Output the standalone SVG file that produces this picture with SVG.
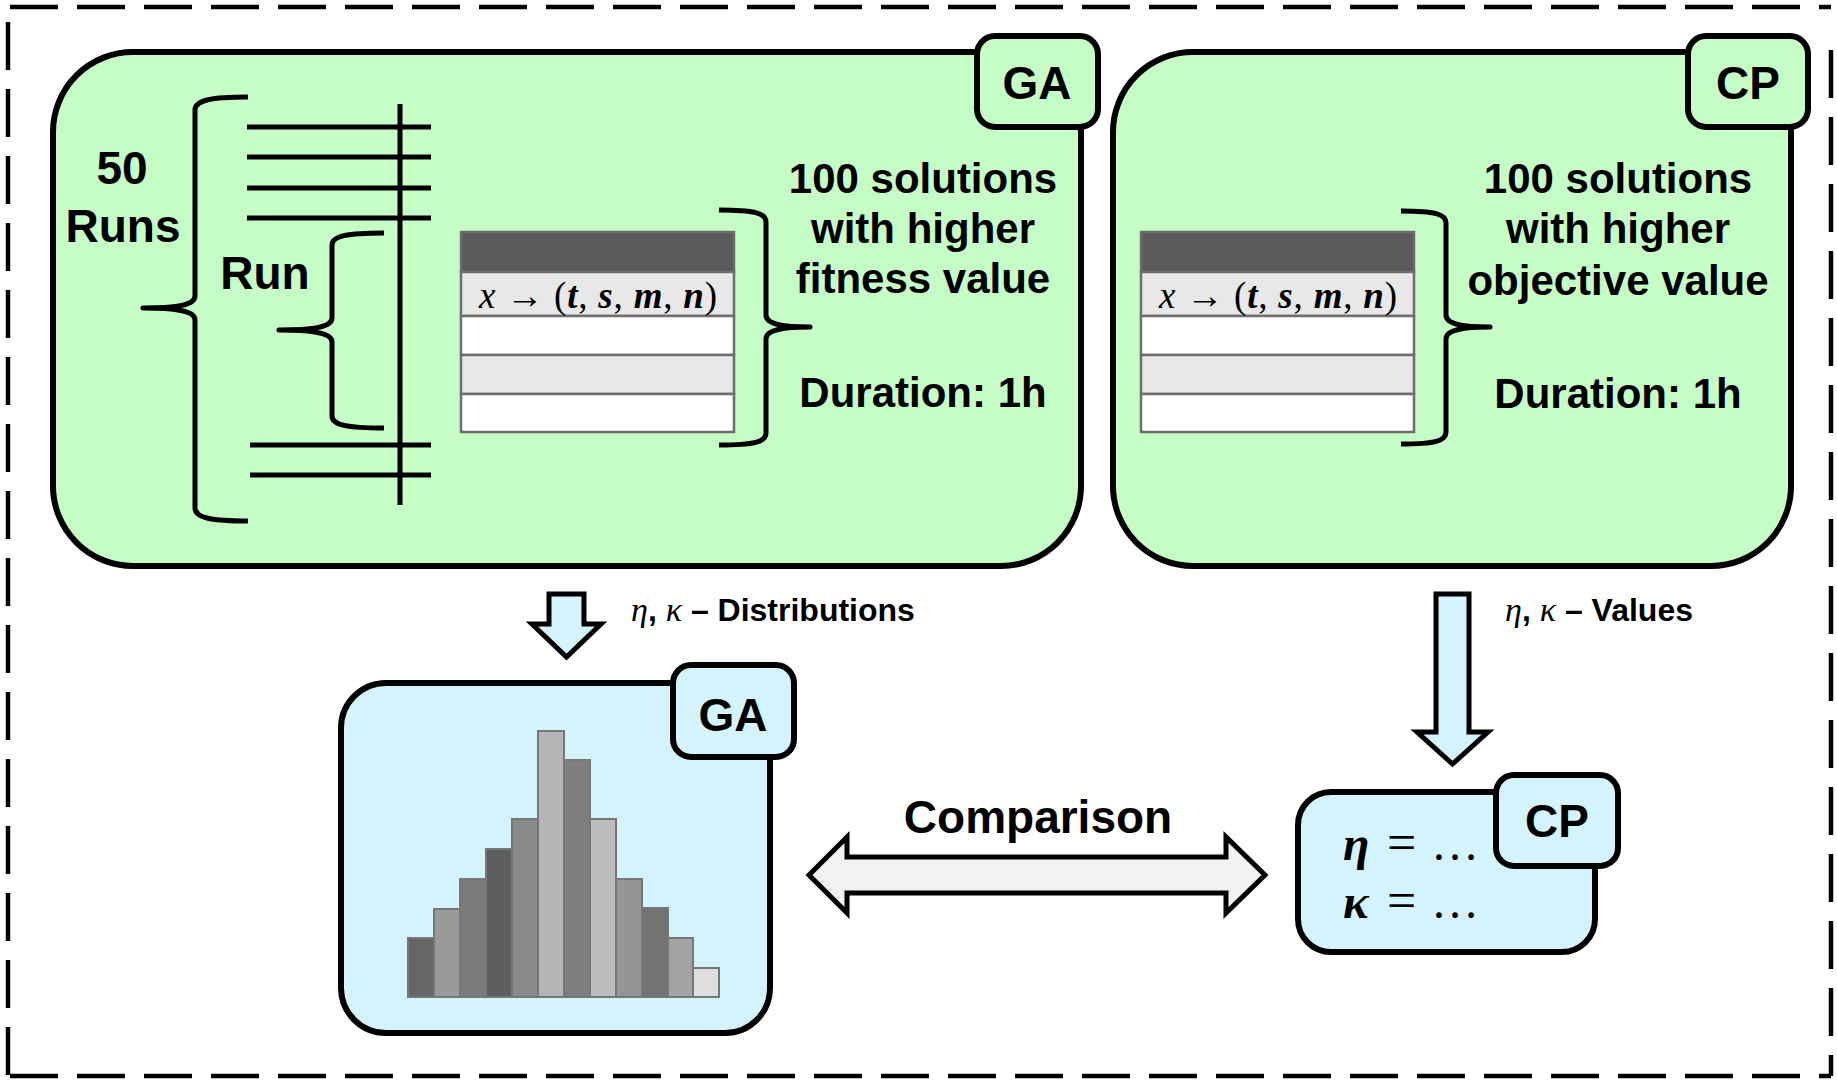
<svg xmlns="http://www.w3.org/2000/svg" width="1837" height="1081" viewBox="0 0 1837 1081">
  <style>
    .frame { fill: none; stroke: #000; stroke-width: 4.5; stroke-dasharray: 48 19; }
    .panel { fill: #c6fcc6; stroke: #000; stroke-width: 6; }
    .result { fill: #d5f3fd; stroke: #000; stroke-width: 6; }
    .ink { fill: none; stroke: #000; stroke-width: 5; }
    .brace { fill: none; stroke: #000; stroke-width: 5; stroke-linecap: butt; stroke-linejoin: round; }
    .cell { stroke: #6e6e6e; stroke-width: 2.5; }
    .bar { stroke: #777; stroke-width: 2; }
    .big { font-family: "Liberation Sans", Arial, sans-serif; font-weight: bold; font-size: 46px; fill: #000; text-anchor: middle; }
    .desc { font-family: "Liberation Sans", Arial, sans-serif; font-weight: bold; font-size: 42px; fill: #000; text-anchor: middle; }
    .lbl { font-family: "Liberation Sans", Arial, sans-serif; font-weight: bold; font-size: 32px; fill: #000; }
    .math { font-family: "Liberation Serif", "Times New Roman", serif; fill: #000; }
    .greek { font-family: "Liberation Serif", "Times New Roman", serif; font-style: italic; font-weight: normal; font-size: 34px; }
    .var { font-style: italic; font-weight: bold; }
    .arrow { stroke: #000; stroke-width: 5; stroke-linejoin: miter; }
  </style>

  <!-- dashed outer frame -->
  <g id="frame">
    <line class="frame" x1="10" y1="7" x2="1831" y2="7"/>
    <line class="frame" x1="8" y1="22" x2="8" y2="1076"/>
    <line class="frame" x1="1831" y1="50" x2="1831" y2="1076"/>
    <line class="frame" x1="10" y1="1076" x2="1831" y2="1076"/>
  </g>

  <!-- GA run panel -->
  <g id="ga-panel">
    <rect class="panel" x="53" y="52" width="1028" height="514" rx="80" ry="80"/>
    <rect class="panel" x="977" y="36" width="121" height="91" rx="18" ry="18"/>
    <text class="big" x="1037" y="99">GA</text>

    <text class="big" x="122" y="184">50</text>
    <text class="big" x="123" y="242">Runs</text>
    <text class="big" x="265" y="289">Run</text>

    <!-- 50 runs brace -->
    <path class="brace" d="M248,97 C212,97 195,100 195,110 L195,296 C195,305 178,308 143,308 C178,308 195,311 195,320 L195,508 C195,518 212,521 248,521"/>
    <!-- single run brace -->
    <path class="brace" d="M384,233 C347,233 332,236 332,245 L332,318 C332,327 314,330 279,330 C314,330 332,333 332,342 L332,416 C332,425 347,428 384,428"/>

    <!-- run timeline -->
    <line class="ink" x1="400" y1="104" x2="400" y2="505"/>
    <line class="ink" x1="247" y1="127" x2="431" y2="127"/>
    <line class="ink" x1="247" y1="157" x2="431" y2="157"/>
    <line class="ink" x1="247" y1="188" x2="431" y2="188"/>
    <line class="ink" x1="247" y1="218" x2="431" y2="218"/>
    <line class="ink" x1="250" y1="445" x2="431" y2="445"/>
    <line class="ink" x1="250" y1="475" x2="431" y2="475"/>

    <!-- solution table -->
    <g id="ga-table">
      <rect class="cell" x="461" y="232" width="273" height="40" fill="#5b5b5b"/>
      <rect class="cell" x="461" y="272" width="273" height="44" fill="#e8e8e8"/>
      <rect class="cell" x="461" y="316" width="273" height="39" fill="#ffffff"/>
      <rect class="cell" x="461" y="355" width="273" height="39" fill="#e8e8e8"/>
      <rect class="cell" x="461" y="394" width="273" height="38" fill="#ffffff"/>
      <text class="math" x="598" y="308" font-size="37" text-anchor="middle" textLength="238" lengthAdjust="spacing"><tspan font-style="italic">x</tspan> → (<tspan class="var">t</tspan>, <tspan class="var">s</tspan>, <tspan class="var">m</tspan>, <tspan class="var">n</tspan>)</text>
    </g>
    <path class="brace" d="M719,210 C754,210 766,213 766,222 L766,315 C766,324 782,327 810,327 C782,327 766,330 766,339 L766,433 C766,442 754,445 719,445"/>

    <text class="desc" x="923" y="193">100 solutions</text>
    <text class="desc" x="923" y="243">with higher</text>
    <text class="desc" x="923" y="293">fitness value</text>
    <text class="desc" x="923" y="407">Duration: 1h</text>
  </g>

  <!-- CP run panel -->
  <g id="cp-panel">
    <rect class="panel" x="1113" y="52" width="678" height="514" rx="80" ry="80"/>
    <rect class="panel" x="1688" y="36" width="120" height="91" rx="18" ry="18"/>
    <text class="big" x="1748" y="99">CP</text>

    <g id="cp-table">
      <rect class="cell" x="1141" y="232" width="273" height="40" fill="#5b5b5b"/>
      <rect class="cell" x="1141" y="272" width="273" height="44" fill="#e8e8e8"/>
      <rect class="cell" x="1141" y="316" width="273" height="39" fill="#ffffff"/>
      <rect class="cell" x="1141" y="355" width="273" height="39" fill="#e8e8e8"/>
      <rect class="cell" x="1141" y="394" width="273" height="38" fill="#ffffff"/>
      <text class="math" x="1278" y="308" font-size="37" text-anchor="middle" textLength="238" lengthAdjust="spacing"><tspan font-style="italic">x</tspan> → (<tspan class="var">t</tspan>, <tspan class="var">s</tspan>, <tspan class="var">m</tspan>, <tspan class="var">n</tspan>)</text>
    </g>
    <path class="brace" d="M1401,211 C1435,211 1446,214 1446,223 L1446,315 C1446,324 1462,327 1490,327 C1462,327 1446,330 1446,339 L1446,432 C1446,441 1435,444 1401,444"/>

    <text class="desc" x="1618" y="193">100 solutions</text>
    <text class="desc" x="1618" y="243">with higher</text>
    <text class="desc" x="1618" y="295">objective value</text>
    <text class="desc" x="1618" y="408">Duration: 1h</text>
  </g>

  <!-- GA result: distribution histogram -->
  <g id="ga-result">
    <rect class="result" x="341" y="683" width="429" height="350" rx="45" ry="45"/>
    <rect class="result" x="673" y="665" width="121" height="92" rx="18" ry="18"/>
    <text class="big" x="733" y="731">GA</text>
    <g id="histogram">
      <rect class="bar" x="408" y="938" width="26" height="59" fill="#666666"/>
      <rect class="bar" x="434" y="909" width="26" height="88" fill="#9a9a9a"/>
      <rect class="bar" x="460" y="879" width="26" height="118" fill="#7a7a7a"/>
      <rect class="bar" x="486" y="849" width="26" height="148" fill="#5e5e5e"/>
      <rect class="bar" x="512" y="819" width="26" height="178" fill="#8a8a8a"/>
      <rect class="bar" x="538" y="731" width="26" height="266" fill="#b5b5b5"/>
      <rect class="bar" x="564" y="760" width="26" height="237" fill="#7e7e7e"/>
      <rect class="bar" x="590" y="819" width="26" height="178" fill="#bdbdbd"/>
      <rect class="bar" x="616" y="879" width="26" height="118" fill="#959595"/>
      <rect class="bar" x="642" y="908" width="26" height="89" fill="#737373"/>
      <rect class="bar" x="668" y="938" width="25" height="59" fill="#a3a3a3"/>
      <rect class="bar" x="693" y="968" width="26" height="29" fill="#dedede"/>
    </g>
  </g>

  <!-- CP result: single values -->
  <g id="cp-result">
    <rect class="result" x="1298" y="792" width="297" height="160" rx="33" ry="33"/>
    <rect class="result" x="1496" y="775" width="122" height="91" rx="18" ry="18"/>
    <text class="big" x="1557" y="837">CP</text>
    <text class="math" y="860" font-size="48"><tspan x="1343" class="var">η</tspan><tspan x="1387" font-size="52">=</tspan><tspan x="1431">…</tspan></text>
    <text class="math" y="918" font-size="48"><tspan x="1343" class="var">κ</tspan><tspan x="1387" font-size="52">=</tspan><tspan x="1431">…</tspan></text>
  </g>

  <!-- connectors -->
  <g id="connectors">
    <polygon class="arrow" fill="#d5f3fd" points="549,594 584,594 584,624 601,624 566.5,657 532,624 549,624"/>
    <text class="lbl" y="621"><tspan x="631" class="greek">η</tspan>, <tspan class="greek">κ</tspan> – Distributions</text>

    <polygon class="arrow" fill="#d5f3fd" points="1436,594 1469,594 1469,732 1488,732 1452.5,764 1417,732 1436,732"/>
    <text class="lbl" y="621"><tspan x="1505" class="greek">η</tspan>, <tspan class="greek">κ</tspan> – Values</text>

    <polygon class="arrow" fill="#f2f2f2" points="809,875 847,837 847,857 1226,857 1226,837 1265,875 1226,913 1226,893 847,893 847,913"/>
    <text class="big" x="1038" y="833">Comparison</text>
  </g>
</svg>
